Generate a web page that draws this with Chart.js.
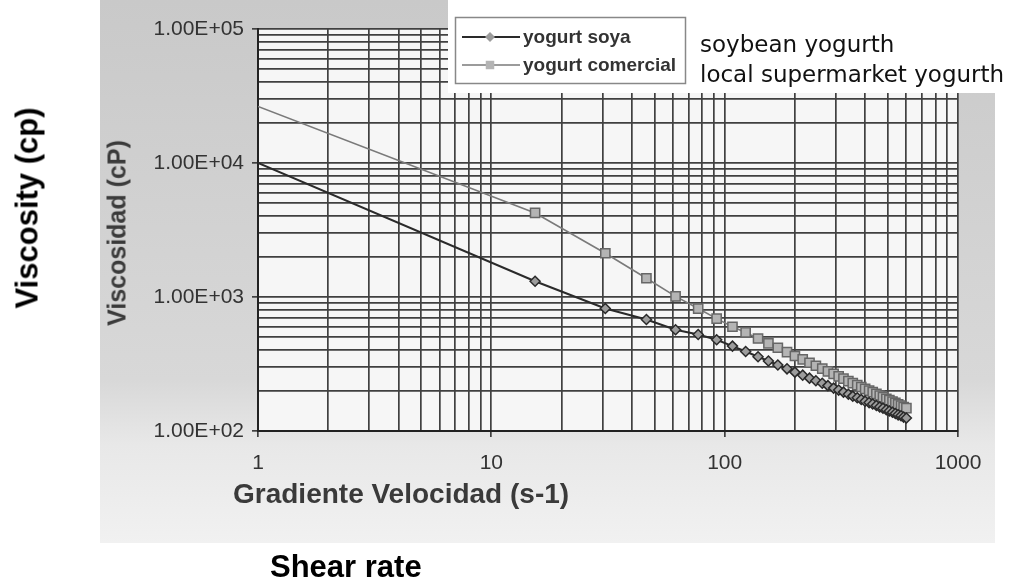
<!DOCTYPE html>
<html>
<head>
<meta charset="utf-8">
<script src="https://cdn.jsdelivr.net/npm/chart.js@4.4.1/dist/chart.umd.min.js"></script>
<style>
  html, body { margin: 0; padding: 0; background: #fff; }
  #wrap { position: relative; width: 1019px; height: 582px; overflow: hidden; font-family: "Liberation Sans", Arial, sans-serif; }
  #wrap canvas { position: absolute; left: 0; top: 0; }
  .lbl { position: absolute; white-space: nowrap; line-height: 1; }
  .rot { transform: translate(-50%, -50%) rotate(-90deg); }
  .note { font-family: "DejaVu Sans", Verdana, sans-serif; font-size: 23px; color: #111; transform: translateY(-50%); }
</style>
</head>
<body>
<div id="wrap">
  <canvas id="c" width="1019" height="582"></canvas>
  <div class="lbl rot" style="left:27px;top:208px;font-weight:bold;font-size:31px;color:#000;">Viscosity (cp)</div>
  <div class="lbl" style="left:270px;top:551px;font-weight:bold;font-size:31px;color:#000;">Shear rate</div>
  <div class="lbl rot" style="left:117px;top:233px;font-weight:bold;font-size:25px;color:#3a3a3a;">Viscosidad (cP)</div>
  <div class="lbl" style="left:233px;top:480px;font-weight:bold;font-size:28px;color:#3a3a3a;">Gradiente Velocidad (s-1)</div>
  <div class="lbl note" style="left:700px;top:44px;">soybean yogurth</div>
  <div class="lbl note" style="left:700px;top:74px;">local supermarket yogurth</div>
</div>
<script>
// ---------- data ----------
const shearRate = [1, 15.4, 30.8, 46.2, 61.6, 77, 92.4, 108, 123, 139, 154, 169, 185, 200, 216, 231, 246, 262, 277, 293,
  308, 323, 339, 354, 370, 385, 400, 416, 431, 447, 462, 477, 493, 508, 524, 539, 554, 570, 585, 601];
const soyaVisc = [10000, 1310, 820, 680, 570, 525, 480, 430, 392, 358, 333, 311, 291, 275, 261, 248, 237, 227, 218, 209,
  202, 195, 188, 182, 177, 172, 167, 163, 159, 155, 151, 148, 144, 141, 138, 135, 132, 130, 127, 125];
const comercialVisc = [26400, 4240, 2120, 1380, 1010, 820, 690, 600, 544, 490, 451, 418, 388, 363, 342, 323, 307, 292, 279, 267,
  256, 246, 236, 228, 220, 213, 206, 200, 195, 189, 184, 179, 174, 170, 166, 162, 158, 155, 151, 148];
const seriesNames = ['yogurt soya', 'yogurt comercial'];

// grid / tick values
const xGrid = [1, 2, 3, 4, 5, 6, 7, 8, 9, 10, 20, 30, 40, 50, 60, 70, 80, 90, 100, 200, 300, 400, 500, 600, 700, 800, 900, 1000];
const xMajor = [1, 10, 100, 1000];
const xLabels = ['1', '10', '100', '1000'];
const yGrid = [100, 200, 300, 400, 500, 600, 700, 800, 900, 1000, 2000, 3000, 4000, 5000, 6000, 7000, 8000, 9000,
  10000, 20000, 30000, 40000, 50000, 60000, 70000, 80000, 90000, 100000];
const yMajor = [100, 1000, 10000, 100000];
const yLabels = ['1.00E+02', '1.00E+03', '1.00E+04', '1.00E+05'];

Chart.defaults.font.family = '"Liberation Sans", Arial, sans-serif';

const pts = arr => shearRate.map((x, i) => ({ x, y: arr[i] }));
const hideFirst = r => ctx => ctx.dataIndex === 0 ? 0 : r;

// scanned-paper background, cover box and legend
const scan = {
  id: 'scan',
  beforeDraw(chart) {
    const { ctx, chartArea: a } = chart;
    ctx.save();
    const g = ctx.createLinearGradient(0, 0, 0, 543);
    g.addColorStop(0, '#c9c9c9');
    g.addColorStop(0.7, '#d8d8d8');
    g.addColorStop(0.82, '#e8e8e8');
    g.addColorStop(1, '#f1f1f1');
    ctx.fillStyle = g;
    ctx.fillRect(100, 0, 895, 543);
    ctx.fillStyle = '#f6f6f6';
    ctx.fillRect(a.left, a.top, a.right - a.left, a.bottom - a.top);
    ctx.restore();
  },
  afterDraw(chart) {
    const ctx = chart.ctx;
    ctx.save();
    ctx.fillStyle = '#fff';
    ctx.fillRect(448, 0, 571, 93);
    ctx.strokeStyle = '#888';
    ctx.lineWidth = 1.5;
    ctx.strokeRect(455.5, 17.5, 230, 66);
    const rows = [37, 65];
    chart.data.datasets.forEach((ds, i) => {
      const y = rows[i];
      ctx.strokeStyle = ds.borderColor;
      ctx.lineWidth = ds.borderWidth;
      ctx.beginPath(); ctx.moveTo(462, y); ctx.lineTo(520, y); ctx.stroke();
      ctx.fillStyle = ds.pointBackgroundColor;
      ctx.strokeStyle = ds.pointBorderColor;
      ctx.lineWidth = 1.5;
      Chart.helpers.drawPoint(ctx, { pointStyle: ds.pointStyle, radius: i === 0 ? 5 : 6, rotation: 0 }, 490, y);
      ctx.fillStyle = '#333';
      ctx.font = 'bold 19px "Liberation Sans", Arial, sans-serif';
      ctx.textBaseline = 'middle';
      ctx.fillText(ds.label, 523, y + 1);
    });
    ctx.restore();
  }
};

const gridStyle = {
  color: '#404040',
  lineWidth: 1.7,
  tickLength: 6,
};

new Chart(document.getElementById('c'), {
  type: 'line',
  data: {
    datasets: [
      { label: seriesNames[0], data: pts(soyaVisc), borderColor: '#2a2a2a', borderWidth: 2, tension: 0,
        pointStyle: 'rectRot', pointRadius: hideFirst(5), pointBackgroundColor: '#9c9c9c', pointBorderColor: '#2a2a2a', pointBorderWidth: 1.5 },
      { label: seriesNames[1], data: pts(comercialVisc), borderColor: '#7a7a7a', borderWidth: 1.6, tension: 0,
        pointStyle: 'rect', pointRadius: hideFirst(6.5), pointBackgroundColor: '#b4b4b4', pointBorderColor: '#666', pointBorderWidth: 1.5 }
    ]
  },
  options: {
    responsive: false,
    animation: false,
    layout: { padding: { left: 138, top: 29, right: 61, bottom: 101 } },
    plugins: { legend: { display: false }, tooltip: { enabled: false } },
    scales: {
      x: {
        type: 'logarithmic', min: 1, max: 1000,
        afterBuildTicks: s => { s.ticks = xGrid.map(v => ({ value: v })); },
        afterFit: s => { s.height = 50; },
        ticks: { autoSkip: false, maxRotation: 0, padding: 14, color: '#333', font: { size: 21 },
          callback: v => { const i = xMajor.indexOf(v); return i < 0 ? '' : xLabels[i]; } },
        grid: { ...gridStyle, tickColor: c => xMajor.includes(c.tick && c.tick.value) ? '#404040' : 'rgba(0,0,0,0)' },
        border: { color: '#222', width: 2 }
      },
      y: {
        type: 'logarithmic', min: 100, max: 100000,
        afterBuildTicks: s => { s.ticks = yGrid.map(v => ({ value: v })); },
        afterFit: s => { s.width = 120; },
        ticks: { autoSkip: false, padding: 8, color: '#333', font: { size: 21 },
          callback: v => { const i = yMajor.indexOf(v); return i < 0 ? '' : yLabels[i]; } },
        grid: { ...gridStyle, tickColor: c => yMajor.includes(c.tick && c.tick.value) ? '#404040' : 'rgba(0,0,0,0)' },
        border: { color: '#222', width: 2 }
      }
    }
  },
  plugins: [scan]
});
</script>
</body>
</html>
